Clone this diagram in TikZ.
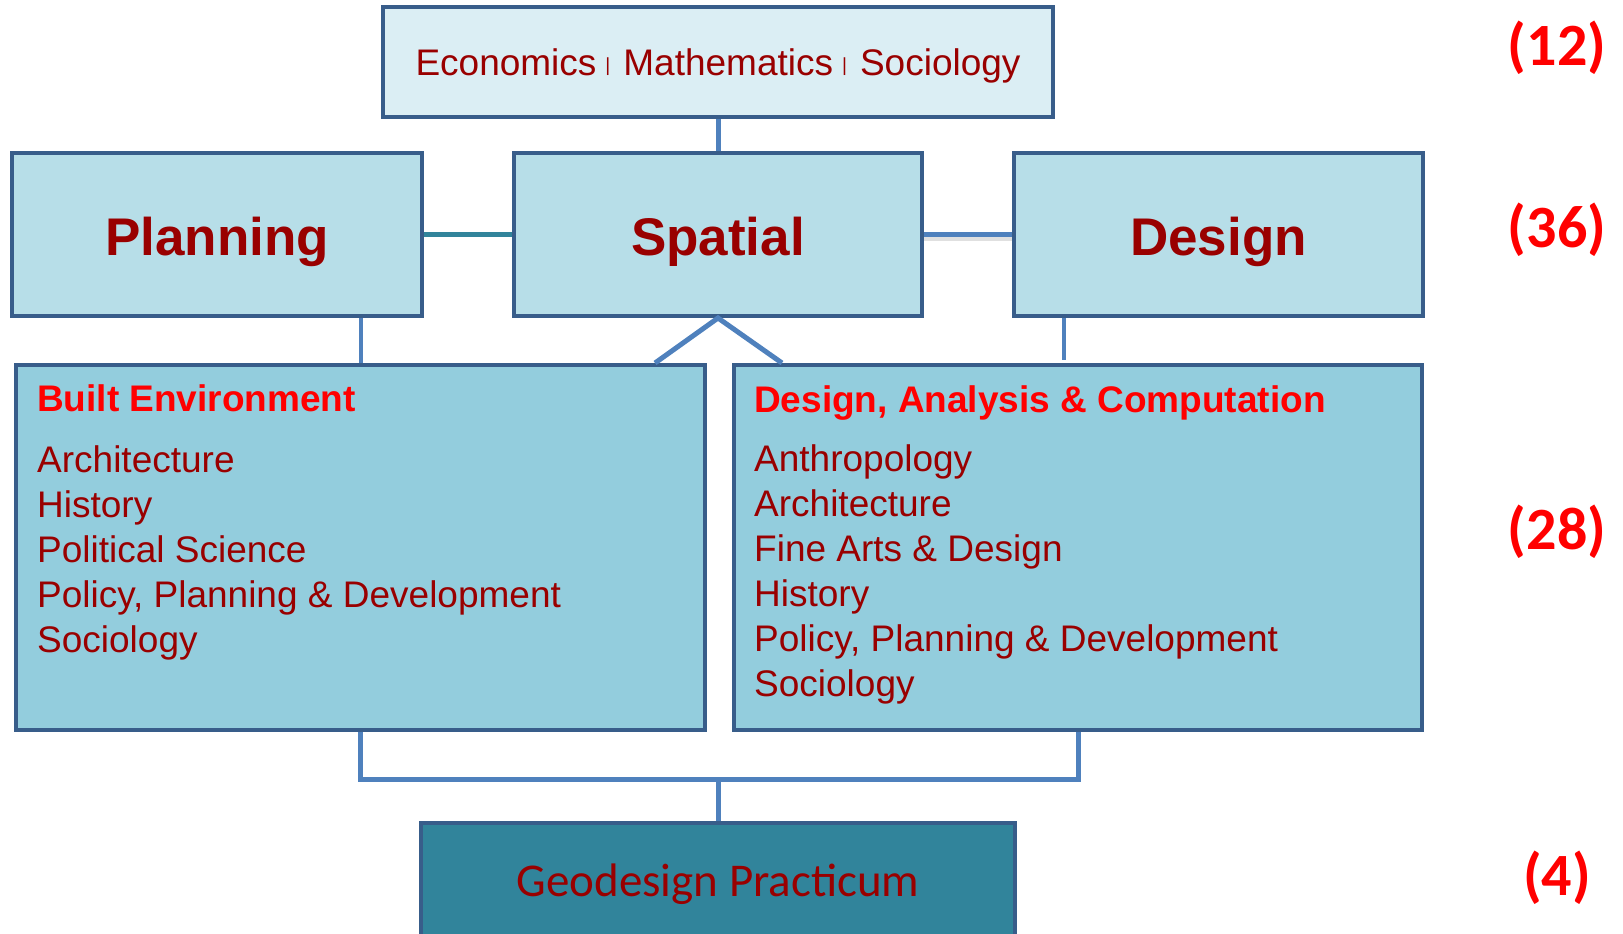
\documentclass[tikz,border=0pt]{standalone}
\usepackage{fontspec}
\newfontfamily\arialf{Liberation Sans}
\newfontfamily\calib{Carlito}
\definecolor{bordc}{HTML}{385D8A}
\definecolor{lineb}{HTML}{4F81BD}
\definecolor{linet}{HTML}{31849B}
\definecolor{filltop}{HTML}{DBEEF4}
\definecolor{fillmid}{HTML}{B7DEE8}
\definecolor{filllow}{HTML}{93CDDD}
\definecolor{fillgeo}{HTML}{31849B}
\definecolor{dred}{HTML}{990000}
\definecolor{bred}{HTML}{FF0000}
\newcommand{\sepbar}{\hspace{9pt}\raisebox{4.5pt}{\fontsize{19}{19}\selectfont|}\hspace{13pt}}
\tikzset{
  box/.style={draw=bordc, line width=4pt, rectangle, inner sep=0pt},
  conn/.style={draw=lineb, line width=5pt},
  item/.style={anchor=base west, inner sep=0pt, text=dred, font=\arialf\fontsize{37}{37}\selectfont},
  head/.style={anchor=base west, inner sep=0pt, text=bred, font=\arialf\bfseries\fontsize{37}{37}\selectfont},
  big/.style={anchor=base, inner sep=0pt, text=dred, font=\arialf\bfseries\fontsize{53}{53}\selectfont},
  num/.style={anchor=base, inner sep=0pt, text=bred, font=\calib\bfseries\fontsize{60}{60}\selectfont},
}
\begin{document}
\begin{tikzpicture}[x=1pt,y=-1pt]
\useasboundingbox (0,0) rectangle (1623,934);
\clip (0,0) rectangle (1623,934);
% boxes
\node[box, fill=filltop, minimum width=670pt, minimum height=110pt] (top) at (718,62) {};
\node[box, fill=fillmid, minimum width=410pt, minimum height=163pt] (plan) at (217,234.5) {};
\node[box, fill=fillmid, minimum width=408pt, minimum height=163pt] (spat) at (718,234.5) {};
\node[box, fill=fillmid, minimum width=409pt, minimum height=163pt] (des) at (1218.5,234.5) {};
\node[box, fill=filllow, minimum width=689pt, minimum height=365pt] (be) at (360.5,547.5) {};
\node[box, fill=filllow, minimum width=688pt, minimum height=365pt] (dac) at (1078,547.5) {};
\node[box, fill=fillgeo, minimum width=594pt, minimum height=160pt] (geo) at (718,903) {};
% coordinates
\coordinate (dd) at (1064,360);
\coordinate (dl) at (655,363);
\coordinate (dr) at (782,363);
\coordinate (bus) at (718,779);
% connectors
\draw[conn] (top.south) -- (spat.north);
\draw[draw=linet, line width=5pt] (plan.east) -- (spat.west);
\draw[draw=black!12, line width=5pt] ([yshift=-4pt]spat.east) -- ([yshift=-4pt]des.west);
\draw[conn] (spat.east) -- (des.west);
\draw[conn, line width=4pt] (be.north |- plan.south) -- (be.north);
\draw[conn, line width=4pt] (dd |- des.south) -- (dd);
\draw[conn] (dl) -- (spat.south) -- (dr);
\draw[conn] (be.south) -- (be.south |- bus) -- (dac.south |- bus) -- (dac.south);
\draw[conn] (bus) -- (geo.north);
% texts
\node[anchor=base, inner sep=0pt, text=dred, font=\arialf\fontsize{37}{37}\selectfont] (toptext) at (718,76)
  {Economics\sepbar Mathematics\sepbar Sociology};
\node[big] (plantext) at (217,255) {Planning};
\node[big] (spattext) at (718,255) {Spatial};
\node[big] (destext) at (1218.5,255) {Design};
\node[head] (behead) at (37,411) {Built Environment};
\foreach \t [count=\i from 0] in {Architecture, History, Political Science, {Policy, Planning \& Development}, Sociology}
  \node[item] (be\i) at (37,{472+45*\i}) {\t};
\node[head] (dachead) at (754,412) {Design, Analysis \& Computation};
\foreach \t [count=\i from 0] in {Anthropology, Architecture, Fine Arts \& Design, History, {Policy, Planning \& Development}, Sociology}
  \node[item] (dac\i) at (754,{471+45*\i}) {\t};
\node[anchor=base, inner sep=0pt, text=dred, font=\calib\fontsize{47}{47}\selectfont] (geotext) at (718,896) {Geodesign Practicum};
\node[num] (n12) at (1557,66) {(12)};
\node[num] (n36) at (1557,247) {(36)};
\node[num] (n28) at (1557,549) {(28)};
\node[num] (n4) at (1557,895) {(4)};
\end{tikzpicture}
\end{document}
